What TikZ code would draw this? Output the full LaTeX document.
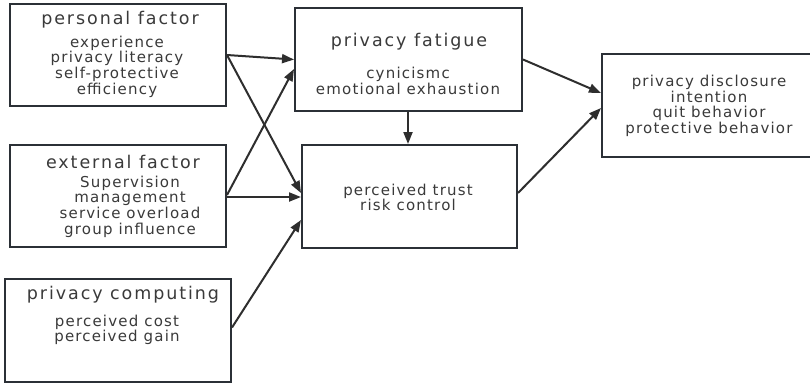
\documentclass[tikz,border=0pt]{standalone}
\usepackage{fontspec}
\usetikzlibrary{arrows.meta}
\newfontfamily\bodyfnt[LetterSpace=8]{DejaVu Sans}
\newfontfamily\titlefnt[LetterSpace=11]{DejaVu Sans}
\definecolor{boxline}{HTML}{2B3036}
\definecolor{txt}{HTML}{3A3A3A}
\definecolor{arr}{HTML}{2E2E2E}
\tikzset{
  box/.style={draw=boxline, line width=2pt, rectangle, inner sep=0pt},
  ttl/.style={text=txt, inner sep=0pt, font=\titlefnt\fontsize{17.5}{19}\selectfont},
  bdy/.style={text=txt, inner sep=0pt, align=center, font=\bodyfnt\fontsize{15}{15.7}\selectfont},
  conn/.style={draw=arr, line width=2pt, -{Triangle[length=12pt,width=9pt]}}
}
\begin{document}
\begin{tikzpicture}[x=1pt,y=-1pt]
\useasboundingbox (0,0) rectangle (810,384);
\clip (0,0) rectangle (810,384);
\fill[white] (0,0) rectangle (810,384);
% boxes
\node[box, minimum width=216pt, minimum height=102pt] (pf) at (118,55) {};
\node[box, minimum width=216pt, minimum height=102pt] (ef) at (118,196) {};
\node[box, minimum width=226pt, minimum height=103pt] (pc) at (118,330.5) {};
\node[box, minimum width=227pt, minimum height=103pt] (fat) at (408.5,59.5) {};
\node[box, minimum width=215pt, minimum height=103pt] (tr) at (409.5,196.5) {};
\node[box, minimum width=214pt, minimum height=103pt] (pd) at (709,105.5) {};
% texts
\node[ttl] (pft) at (120,20) {personal factor};
\node[bdy] (pfb) at (117,66.5) {experience\\privacy literacy\\self-protective\\efficiency};
\node[ttl] (eft) at (123,162) {external factor};
\node[bdy] (efb) at (130,206.5) {Supervision\\management\\service overload\\group influence};
\node[ttl] (pct) at (123,295) {privacy computing};
\node[bdy] (pcb) at (117,330) {perceived cost\\perceived gain};
\node[ttl] (fatt) at (409,42) {privacy fatigue};
\node[bdy] (fatb) at (408,81) {cynicismc\\emotional exhaustion};
\node[bdy] (trb) at (408,197.5) {perceived trust\\risk control};
\node[bdy] (pdb) at (709,106) {privacy disclosure\\intention\\quit behavior\\protective behavior};
% connectors
\draw[conn] (pf.east) -- (fat.west);
\draw[conn] (pf.east) -- ([yshift=3.5pt]tr.west);
\draw[conn] ([yshift=1pt]ef.east) -- ([yshift=-9.5pt]fat.west);
\draw[conn] ([yshift=-1pt]ef.east) -- ([yshift=-0.5pt]tr.west);
\draw[conn] ([yshift=3pt]pc.east) -- ([yshift=-23.5pt]tr.west);
\draw[conn] ([xshift=-0.5pt]fat.south) -- ([xshift=-1.5pt]tr.north);
\draw[conn] (fat.east) -- ([yshift=12.5pt]pd.west);
\draw[conn] ([yshift=3.5pt]tr.east) -- ([yshift=-2.5pt]pd.west);
\end{tikzpicture}
\end{document}
